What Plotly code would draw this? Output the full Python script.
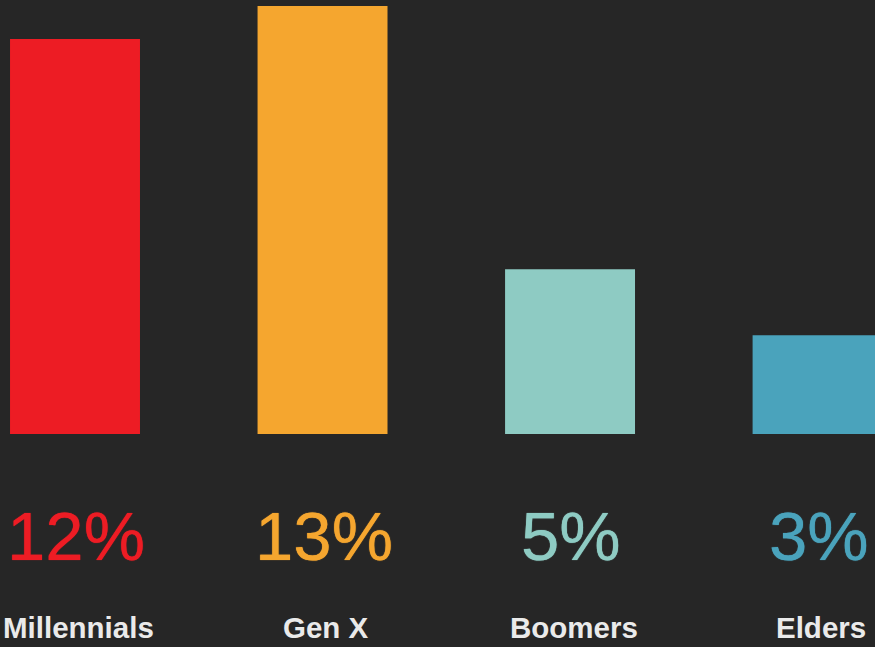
import plotly.graph_objects as go

categories = ["Millennials", "Gen X", "Boomers", "Elders"]
values = [12, 13, 5, 3]
value_labels = ["12%", "13%", "5%", "3%"]
colors = ["#ED1C24", "#F5A62F", "#8ECBC3", "#4AA3BC"]

BG = "#262626"
xpos = list(range(len(categories)))

fig = go.Figure()
fig.add_trace(go.Bar(
    x=xpos, y=values, width=0.525,
    marker=dict(color=colors, line=dict(width=0)),
    hoverinfo="skip", showlegend=False,
))

for i, (cat, lab, col) in enumerate(zip(categories, value_labels, colors)):
    fig.add_annotation(x=i + 0.005, y=-3.13, xref="x", yref="y", text=lab, showarrow=False,
                       font=dict(family="Liberation Sans, Arial, sans-serif", size=69, color=col,
                                 shadow=f"0px 0px 1px {col}"),
                       xanchor="center", yanchor="middle")
    fig.add_annotation(x=i + 0.015, y=-5.87, xref="x", yref="y", text=cat, showarrow=False,
                       font=dict(family="Liberation Sans, Arial, sans-serif", size=29.5, color="#EAEAEA", weight="bold"),
                       xanchor="center", yanchor="middle")

fig.update_layout(
    width=875, height=647,
    margin=dict(l=0, r=0, t=0, b=0),
    paper_bgcolor=BG, plot_bgcolor=BG,
    xaxis=dict(range=[-0.303, 3.232], visible=False, fixedrange=True),
    yaxis=dict(range=[-6.474, 13.182], visible=False, fixedrange=True),
)

fig.write_html("out.html", config={"displayModeBar": False},
               post_script="document.body.style.margin='0';document.body.style.padding='0';document.body.style.background='#262626';document.body.style.overflow='hidden';")
